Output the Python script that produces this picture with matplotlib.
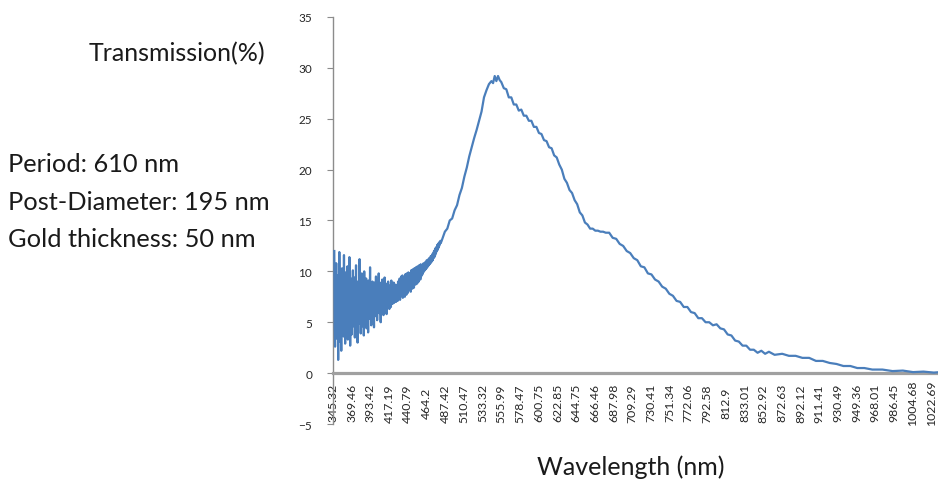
import numpy as np
import matplotlib
matplotlib.use("Agg")
import matplotlib.pyplot as plt

plt.rcParams['font.family'] = ['Lato', 'DejaVu Sans']

# category labels shown on the x axis (wavelength, nm)
tick_nm = [345.32, 369.46, 393.42, 417.19, 440.79, 464.2, 487.42, 510.47,
           533.32, 555.99, 578.47, 600.75, 622.85, 644.75, 666.46, 687.98,
           709.29, 730.41, 751.34, 772.06, 792.58, 812.9, 833.01, 852.92,
           872.63, 892.12, 911.41, 930.49, 949.36, 968.01, 986.45, 1004.68,
           1022.69]
tick_labels = [("%.2f" % v).rstrip("0").rstrip(".") for v in tick_nm]

# noisy blue end of the spectrum, sampled every 0.5 nm from 347 nm
noise_start_nm = 347.0
noise_step_nm = 0.5
noise_T = [
    # 347 - 372 nm
    12.0, 4.5, 2.6, 8.9, 6.1, 10.8, 3.4, 7.2, 5.0, 9.6,
    1.3, 6.8, 4.2, 11.9, 7.5, 3.1, 9.2, 5.6, 2.2, 8.4,
    10.3, 6.0, 4.8, 7.7, 3.6, 11.6, 5.3, 8.1, 2.9, 6.6,
    9.9, 4.0, 7.0, 5.8, 10.5, 3.3, 8.7, 6.3, 4.5, 11.4,
    7.9, 2.7, 6.9, 9.3, 5.1, 3.8, 8.5, 6.2, 10.1, 4.6,
    7.3,
    # 372.5 - 400 nm
    5.2, 9.4, 3.5, 7.8, 6.0, 10.6, 4.3, 8.2, 5.7, 3.0,
    9.0, 6.7, 7.5, 4.9, 11.2, 5.9, 8.6, 3.9, 7.1, 6.4,
    9.8, 4.6, 8.0, 5.5, 7.3, 3.7, 10.0, 6.1, 8.8, 5.0,
    6.9, 9.3, 4.4, 7.7, 6.2, 8.5, 4.0, 9.1, 5.8, 7.0,
    6.5, 10.4, 5.3, 8.3, 4.7, 7.6, 6.0, 9.0, 5.4, 8.1,
    6.7, 4.5, 8.9, 6.3, 7.4, 5.6,
    # 400.5 - 430 nm
    9.5, 6.1, 7.8, 5.2, 8.7, 6.9, 7.3, 9.8, 5.9, 8.0,
    6.6, 7.5, 5.0, 8.9, 7.0, 6.2, 9.2, 6.8, 8.2, 5.7,
    7.9, 7.1, 9.4, 6.4, 8.4, 6.9, 7.6, 5.8, 8.8, 7.2,
    6.7, 9.0, 7.4, 8.1, 6.3, 8.6, 7.0, 7.8, 6.5, 9.1,
    7.3, 8.3, 6.8, 7.9, 7.5, 8.9, 6.9, 8.2, 7.6, 7.2,
    8.7, 7.0, 8.4, 7.7, 8.0, 7.1, 9.0, 7.8, 8.3, 7.5,
    # 430.5 - 458 nm
    9.3, 7.2, 8.8, 7.6, 9.5, 7.9, 8.4, 9.6, 7.4, 8.9,
    7.8, 9.4, 8.1, 7.5, 9.7, 8.3, 8.9, 7.7, 9.8, 8.2,
    9.1, 7.9, 9.9, 8.5, 8.2, 9.8, 8.4, 9.4, 8.0, 10.1,
    8.6, 9.5, 8.3, 10.2, 8.8, 9.6, 8.4, 10.3, 8.9, 9.3,
    8.7, 10.4, 9.0, 9.7, 8.8, 10.5, 9.2, 9.9, 9.0, 10.6,
    9.3, 10.0, 9.2, 10.7, 9.5, 10.3,
    # 458.5 - 482 nm
    10.6, 9.7, 10.5, 9.9, 10.8, 10.0, 10.6, 10.1, 10.9, 10.2,
    10.8, 10.3, 11.1, 10.4, 11.0, 10.5, 11.2, 10.6, 11.3, 10.7,
    11.3, 10.8, 11.5, 10.9, 11.5, 11.0,
    11.7, 11.1, 11.8, 11.3, 12.0, 11.4, 12.1, 11.6, 12.3, 11.8,
    12.4, 12.0, 12.6, 12.1, 12.7, 12.3, 12.8, 12.5, 12.9, 12.7,
    13.0, 12.8,
]

# rest of the spectrum
main_nm = [483, 487, 490, 493, 496, 499, 502, 505, 508, 511, 514, 517, 520,
           523, 526, 529, 532, 535, 538, 541, 544, 546, 548, 550, 552, 554,
           556, 559, 562, 565, 568, 571, 574, 577, 580, 583, 586, 589, 592,
           595, 598, 601, 604, 607, 610, 613, 616, 619, 622, 625, 628, 631,
           634, 637, 640, 643, 646, 649, 652, 655, 658, 661, 664, 667, 670,
           673, 676, 679, 683, 687, 691, 695, 699, 703, 707, 711, 715, 719,
           723, 727, 731, 735, 739, 743, 747, 751, 755, 759, 763, 767, 771,
           775, 779, 783, 787, 791, 795, 799, 803, 807, 811, 815, 819, 823,
           827, 831, 835, 839, 843, 847, 851, 855, 859, 865, 873, 880, 887,
           894, 901, 908, 915, 922, 929, 936, 943, 950, 957, 965, 975, 985,
           995, 1005, 1015, 1025, 1031]
main_T = [13.0, 13.9, 14.2, 15.0, 15.2, 16.0, 16.5, 17.5, 18.2, 19.3, 20.2,
          21.3, 22.2, 23.1, 23.9, 24.8, 25.7, 27.1, 27.8, 28.4, 28.7, 28.5,
          29.2, 28.7, 29.2, 28.8, 28.6, 28.0, 27.9, 27.1, 27.1, 26.4, 26.4,
          25.8, 25.9, 25.3, 25.3, 24.8, 24.8, 24.2, 24.2, 23.6, 23.5, 22.9,
          22.8, 22.2, 22.1, 21.4, 21.2, 20.5, 20.0, 19.1, 18.7, 18.0, 17.7,
          17.0, 16.6, 15.8, 15.5, 14.8, 14.6, 14.2, 14.2, 14.0, 14.0, 13.9,
          13.9, 13.8, 13.8, 13.3, 13.2, 12.7, 12.5, 12.0, 11.8, 11.3, 11.1,
          10.5, 10.4, 9.8, 9.7, 9.2, 9.0, 8.5, 8.3, 7.8, 7.6, 7.1, 7.0, 6.5,
          6.5, 6.0, 5.9, 5.4, 5.4, 5.0, 5.0, 4.7, 4.8, 4.4, 4.3, 3.8, 3.7,
          3.2, 3.1, 2.7, 2.7, 2.3, 2.3, 2.0, 2.2, 1.9, 2.1, 1.8, 1.9, 1.7,
          1.7, 1.5, 1.5, 1.2, 1.2, 1.0, 0.9, 0.7, 0.7, 0.5, 0.5, 0.35, 0.35,
          0.2, 0.25, 0.1, 0.15, 0.05, 0.1]

wl = np.concatenate([noise_start_nm + noise_step_nm * np.arange(len(noise_T)),
                     main_nm])
T = np.concatenate([noise_T, main_T])


def to_pos(w):
    # category axis: wavelength -> label index (linear past the last label)
    idx = np.arange(len(tick_nm))
    pos = np.interp(w, tick_nm, idx)
    hi = w > tick_nm[-1]
    pos[hi] = idx[-1] + (w[hi] - tick_nm[-1]) / (tick_nm[-1] - tick_nm[-2])
    return pos


fig = plt.figure(figsize=(9.38, 4.85), dpi=100)
ax = fig.add_axes([0.355, 0.1237, 0.645, 0.8392])

ax.plot(to_pos(wl), T, color="#4a7ebb", lw=1.6, zorder=3)

ax.set_xlim(0, 32.35)
ax.set_ylim(-5, 35)
ax.set_yticks(np.arange(-5, 36, 5))

for s in ["top", "right"]:
    ax.spines[s].set_visible(False)
ax.spines["left"].set_color("#8c8c8c")
ax.spines["left"].set_linewidth(1.0)
ax.spines["bottom"].set_position(("data", 0))
ax.spines["bottom"].set_color("#a0a0a0")
ax.spines["bottom"].set_linewidth(2.3)

ax.set_xticks(range(len(tick_nm)))
ax.set_xticklabels(tick_labels, rotation=90, fontsize=8.8, color="#262626")
for lbl in ax.get_xticklabels():
    lbl.set_va("center")
ax.tick_params(axis="x", length=0, pad=21)
ax.tick_params(axis="y", length=4, width=0.8, color="#8c8c8c",
               labelsize=8.5, labelcolor="#262626", pad=11)

txt = dict(va="baseline", color="#1a1a1a")
fig.text(0.283, 0.874, "Transmission(%)", fontsize=18, ha="right", **txt)
fig.text(0.009, 0.645, "Period: 610 nm", fontsize=18.3, **txt)
fig.text(0.009, 0.567, "Post-Diameter: 195 nm", fontsize=18.3, **txt)
fig.text(0.009, 0.491, "Gold thickness: 50 nm", fontsize=18.3, **txt)
fig.text(0.672, 0.021, "Wavelength (nm)", fontsize=18, ha="center", **txt)

fig.savefig("out.png", dpi=100)
